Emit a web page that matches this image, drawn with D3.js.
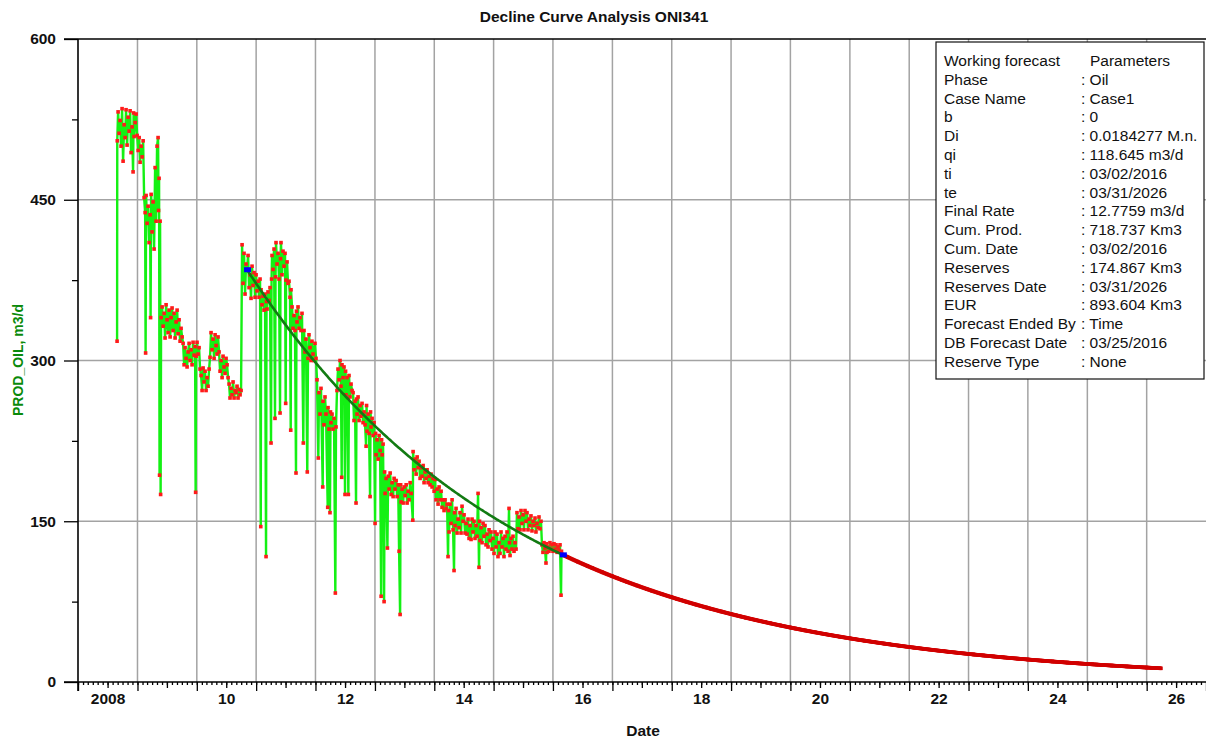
<!DOCTYPE html>
<html>
<head>
<meta charset="utf-8">
<script src="https://cdn.jsdelivr.net/npm/d3@7"></script>
<style>
  html, body { margin: 0; padding: 0; background: #fff; }
  svg { display: block; font-family: "Liberation Sans", Arial, sans-serif; }
</style>
</head>
<body>
<svg id="chart" width="1206" height="740"></svg>
<script>
// ---- Chart data -------------------------------------------------------
const title = "Decline Curve Analysis ONI341";
const yLabel = "PROD_OIL, m3/d";
const xLabel = "Date";

const yMajorTicks = [0, 150, 300, 450, 600];
const yMinorTicks = [75, 225, 375, 525];
const yGridValues = [150, 300, 450];
const xLabelYears = [2008, 2010, 2012, 2014, 2016, 2018, 2020, 2022, 2024, 2026];

// Daily oil rate history, [decimal year, m3/d]
const history = [
  [2008.657,318],[2008.66,505],[2008.674,532],[2008.69,512],[2008.707,524],[2008.724,500],[2008.741,535],[2008.758,486],
  [2008.775,520],[2008.792,508],[2008.808,534],[2008.825,501],[2008.842,527],[2008.859,514],[2008.876,533],[2008.892,494],
  [2008.909,518],[2008.926,476],[2008.935,531],[2008.943,509],[2008.96,522],[2008.977,530],[2008.994,510],[2009.011,496],
  [2009.028,508],[2009.044,485],[2009.061,500],[2009.078,490],[2009.095,505],[2009.112,452],[2009.129,438],[2009.137,307],
  [2009.145,454],[2009.162,428],[2009.179,444],[2009.196,410],[2009.213,436],[2009.221,340],[2009.23,455],[2009.246,420],
  [2009.263,448],[2009.28,404],[2009.297,480],[2009.314,430],[2009.33,500],[2009.347,508],[2009.355,440],[2009.364,470],
  [2009.372,193],[2009.381,430],[2009.39,175],[2009.398,340],[2009.415,350],[2009.432,332],[2009.449,344],[2009.465,321],
  [2009.482,352],[2009.499,338],[2009.516,326],[2009.533,347],[2009.55,322],[2009.566,340],[2009.583,349],[2009.6,328],
  [2009.617,344],[2009.634,321],[2009.651,336],[2009.668,347],[2009.684,325],[2009.701,338],[2009.718,318],[2009.735,330],
  [2009.752,322],[2009.769,316],[2009.786,296],[2009.802,312],[2009.819,302],[2009.836,294],[2009.853,308],[2009.87,316],
  [2009.887,300],[2009.903,310],[2009.92,296],[2009.937,317],[2009.954,305],[2009.971,313],[2009.98,177],[2009.988,304],
  [2010.004,317],[2010.021,306],[2010.038,312],[2010.055,292],[2010.072,286],[2010.089,272],[2010.106,293],[2010.122,280],
  [2010.139,290],[2010.156,272],[2010.173,284],[2010.19,276],[2010.207,292],[2010.223,303],[2010.24,326],[2010.257,310],
  [2010.274,320],[2010.291,302],[2010.308,324],[2010.324,314],[2010.341,306],[2010.358,322],[2010.375,308],[2010.392,290],
  [2010.409,300],[2010.426,284],[2010.442,304],[2010.459,294],[2010.476,288],[2010.493,302],[2010.51,296],[2010.527,284],
  [2010.544,278],[2010.56,265],[2010.577,274],[2010.594,268],[2010.611,280],[2010.628,265],[2010.645,272],[2010.661,270],
  [2010.678,276],[2010.695,265],[2010.712,273],[2010.729,268],[2010.746,272],[2010.763,408],[2010.779,372],[2010.796,400],
  [2010.813,362],[2010.83,390],[2010.847,385],[2010.864,398],[2010.881,368],[2010.897,380],[2010.914,358],[2010.931,388],
  [2010.948,370],[2010.965,382],[2010.982,359],[2010.999,380],[2011.015,365],[2011.032,374],[2011.049,359],[2011.066,376],
  [2011.078,145],[2011.083,366],[2011.099,352],[2011.116,360],[2011.133,347],[2011.15,362],[2011.167,117],[2011.175,355],
  [2011.184,348],[2011.2,364],[2011.217,356],[2011.234,368],[2011.251,223],[2011.26,376],[2011.268,398],[2011.285,385],
  [2011.302,404],[2011.318,246],[2011.327,378],[2011.335,410],[2011.352,390],[2011.369,400],[2011.386,376],[2011.403,251],
  [2011.411,395],[2011.419,410],[2011.436,380],[2011.453,402],[2011.47,388],[2011.487,400],[2011.498,260],[2011.504,375],
  [2011.521,392],[2011.537,372],[2011.554,374],[2011.571,359],[2011.583,235],[2011.588,366],[2011.605,350],[2011.622,330],
  [2011.638,342],[2011.655,328],[2011.672,195],[2011.68,346],[2011.689,336],[2011.706,350],[2011.723,330],[2011.739,340],
  [2011.756,328],[2011.773,344],[2011.795,223],[2011.807,328],[2011.824,308],[2011.84,320],[2011.862,196],[2011.874,302],
  [2011.891,324],[2011.908,312],[2011.925,300],[2011.941,318],[2011.958,306],[2011.975,300],[2011.992,316],[2012.009,302],
  [2012.026,282],[2012.048,209],[2012.059,270],[2012.076,250],[2012.093,274],[2012.122,182],[2012.127,262],[2012.143,240],
  [2012.16,266],[2012.177,250],[2012.206,163],[2012.211,256],[2012.228,236],[2012.244,158],[2012.253,252],[2012.261,242],
  [2012.278,250],[2012.295,236],[2012.312,246],[2012.334,83],[2012.345,238],[2012.362,272],[2012.379,292],[2012.396,282],
  [2012.413,300],[2012.429,276],[2012.441,191],[2012.446,296],[2012.463,284],[2012.48,294],[2012.497,175],[2012.506,290],
  [2012.514,268],[2012.531,284],[2012.553,175],[2012.564,286],[2012.581,266],[2012.598,278],[2012.615,272],[2012.632,270],
  [2012.648,244],[2012.665,262],[2012.682,167],[2012.69,264],[2012.699,250],[2012.716,266],[2012.733,244],[2012.75,258],
  [2012.766,248],[2012.783,260],[2012.8,242],[2012.817,252],[2012.834,240],[2012.851,220],[2012.859,258],[2012.867,234],
  [2012.884,250],[2012.901,232],[2012.918,173],[2012.926,252],[2012.935,238],[2012.952,246],[2012.969,230],[2012.985,242],
  [2013.002,148],[2013.011,232],[2013.019,212],[2013.036,226],[2013.053,208],[2013.07,230],[2013.087,216],[2013.104,80],
  [2013.112,226],[2013.121,212],[2013.137,222],[2013.154,75],[2013.163,196],[2013.171,176],[2013.188,190],[2013.21,125],
  [2013.222,192],[2013.239,180],[2013.256,195],[2013.273,175],[2013.289,186],[2013.306,173],[2013.323,190],[2013.34,180],
  [2013.357,188],[2013.374,173],[2013.391,184],[2013.407,122],[2013.424,63],[2013.433,184],[2013.441,168],[2013.458,180],
  [2013.475,167],[2013.492,182],[2013.509,174],[2013.526,184],[2013.542,167],[2013.559,178],[2013.576,170],[2013.593,186],
  [2013.61,176],[2013.638,151],[2013.643,215],[2013.66,198],[2013.677,208],[2013.694,194],[2013.711,210],[2013.728,200],
  [2013.744,206],[2013.761,190],[2013.778,200],[2013.795,192],[2013.812,202],[2013.828,186],[2013.845,196],[2013.862,190],
  [2013.879,198],[2013.896,186],[2013.913,192],[2013.929,184],[2013.946,194],[2013.963,182],[2013.98,190],[2013.997,178],
  [2014.014,189],[2014.03,170],[2014.047,180],[2014.064,166],[2014.081,182],[2014.098,170],[2014.115,178],[2014.131,163],
  [2014.148,170],[2014.165,160],[2014.182,170],[2014.199,162],[2014.216,166],[2014.232,117],[2014.241,160],[2014.249,140],
  [2014.266,166],[2014.283,148],[2014.3,170],[2014.317,142],[2014.333,104],[2014.342,158],[2014.35,146],[2014.367,162],
  [2014.384,139],[2014.401,152],[2014.418,144],[2014.434,158],[2014.451,139],[2014.468,164],[2014.485,150],[2014.502,156],
  [2014.519,139],[2014.536,148],[2014.552,138],[2014.569,152],[2014.586,134],[2014.603,146],[2014.62,133],[2014.637,152],
  [2014.653,140],[2014.67,150],[2014.687,134],[2014.704,146],[2014.721,136],[2014.738,176],[2014.754,107],[2014.763,150],
  [2014.771,132],[2014.788,144],[2014.805,130],[2014.822,148],[2014.839,136],[2014.855,146],[2014.872,128],[2014.889,138],
  [2014.906,126],[2014.923,142],[2014.94,132],[2014.956,140],[2014.973,124],[2014.99,134],[2015.007,120],[2015.024,140],
  [2015.041,126],[2015.058,138],[2015.074,117],[2015.091,130],[2015.108,120],[2015.125,140],[2015.142,126],[2015.159,134],
  [2015.175,117],[2015.192,136],[2015.209,124],[2015.226,140],[2015.243,122],[2015.26,162],[2015.268,130],[2015.277,118],
  [2015.293,134],[2015.31,124],[2015.327,136],[2015.344,122],[2015.361,130],[2015.378,124],[2015.394,158],[2015.411,143],
  [2015.428,154],[2015.445,142],[2015.462,160],[2015.479,148],[2015.496,156],[2015.512,142],[2015.529,160],[2015.546,150],
  [2015.563,158],[2015.58,142],[2015.597,152],[2015.613,146],[2015.63,155],[2015.647,141],[2015.664,150],[2015.681,146],
  [2015.698,153],[2015.714,140],[2015.731,148],[2015.748,144],[2015.765,154],[2015.782,143],[2015.799,150],[2015.815,128],
  [2015.832,121],[2015.849,130],[2015.866,125],[2015.883,111],[2015.891,129],[2015.9,121],[2015.917,126],[2015.933,122],
  [2015.95,130],[2015.967,124],[2015.984,128],[2016.001,122],[2016.018,129],[2016.035,124],[2016.052,128],[2016.069,121],
  [2016.085,126],[2016.102,123],[2016.119,128],[2016.136,81],[2016.144,122],[2016.153,119]
];

// Working forecast parameters (Arps, b = 0 => exponential decline)
const paramNames = ["Phase","Case Name","b","Di","qi","ti","te","Final Rate","Cum. Prod.","Cum. Date",
  "Reserves","Reserves Date","EUR","Forecast Ended By","DB Forecast Date","Reserve Type"];
const paramValues = ["Oil","Case1","0","0.0184277 M.n.","118.645 m3/d","03/02/2016","03/31/2026","12.7759 m3/d",
  "718.737 Km3","03/02/2016","174.867 Km3","03/31/2026","893.604 Km3","Time","03/25/2016","None"];
const qi = 118.645;          // m3/d at ti
const Di = 0.0184277;        // nominal decline per month
const tiDate = "2016-03-02";
const teDate = "2026-03-31";
const fitStartDate = "2010-11-06";   // start of the matched decline segment

// ---- Helpers -----------------------------------------------------------
const parse = d3.utcParse("%Y-%m-%d");
function fromDecimalYear(v) {
  const Y = Math.floor(v);
  const s = Date.UTC(Y, 0, 1), e = Date.UTC(Y + 1, 0, 1);
  return new Date(s + (v - Y) * (e - s));
}
const MS_PER_MONTH = 365.25 / 12 * 864e5;
const tiTime = parse(tiDate), teTime = parse(teDate), fitStart = parse(fitStartDate);
// exponential decline rate at date t
const rateAt = t => qi * Math.exp(-Di * (t - tiTime) / MS_PER_MONTH);

// ---- Layout ------------------------------------------------------------
const svg = d3.select("#chart");
const plotL = 78, plotR = 1206, plotT = 39, plotB = 682;
const x = d3.scaleUtc()
  .domain([new Date(Date.UTC(2008, 0, 1)), new Date(Date.UTC(2027, 0, 1))])
  .range([plotL, plotR]);
const y = d3.scaleLinear().domain([0, 600]).range([plotB, plotT]);

// grid
const grid = svg.append("g").attr("stroke", "#a3a3a3").attr("stroke-width", 1.5);
grid.selectAll("line.v")
  .data(d3.utcYear.range(new Date(Date.UTC(2009, 0, 1)), new Date(Date.UTC(2027, 0, 1))))
  .join("line").attr("class", "v")
  .attr("x1", d => x(d)).attr("x2", d => x(d))
  .attr("y1", plotT).attr("y2", plotB);
grid.selectAll("line.h").data(yGridValues).join("line").attr("class", "h")
  .attr("x1", plotL).attr("x2", plotR)
  .attr("y1", d => y(d)).attr("y2", d => y(d));

// ---- Marks -------------------------------------------------------------
const hist = history.map(([t, v]) => ({ t: fromDecimalYear(t), v }));

svg.append("path")
  .datum(hist)
  .attr("fill", "none")
  .attr("stroke", "#14f014")
  .attr("stroke-width", 2.4)
  .attr("stroke-linejoin", "bevel")
  .attr("d", d3.line().x(d => x(d.t)).y(d => y(d.v)));

svg.append("g").attr("fill", "#ff1a1a")
  .selectAll("rect").data(hist).join("rect")
  .attr("x", d => x(d.t) - 1.8).attr("y", d => y(d.v) - 1.8)
  .attr("width", 3.6).attr("height", 3.6);

// matched decline segment over the history
const fitDates = d3.utcDay.every(7).range(fitStart, tiTime).concat([tiTime]);
svg.append("path")
  .datum(fitDates)
  .attr("fill", "none")
  .attr("stroke", "#137a13")
  .attr("stroke-width", 2.6)
  .attr("d", d3.line().x(d => x(d)).y(d => y(rateAt(d))));

// forecast points
const fcDates = d3.utcDay.every(5).range(tiTime, teTime).concat([teTime]);
svg.append("g").attr("fill", "#d10000")
  .selectAll("rect").data(fcDates).join("rect")
  .attr("x", d => x(d) - 1.6).attr("y", d => y(rateAt(d)) - 1.8)
  .attr("width", 3.2).attr("height", 3.6);

// end markers of the matched segment
svg.append("g").attr("fill", "#0000ff")
  .selectAll("rect").data([fitStart, tiTime]).join("rect")
  .attr("x", d => x(d) - 3).attr("y", d => y(rateAt(d)) - 2.5)
  .attr("width", 7).attr("height", 5);

// ---- Axes --------------------------------------------------------------
const axisFont = 'bold 15.5px "Liberation Sans", Arial, sans-serif';
const xDomain = x.domain();

function styleAxis(g) {
  g.select(".domain").remove();
  g.selectAll("line").attr("stroke", "#000").attr("stroke-width", 1.3);
}

// monthly minor ticks
svg.append("g").attr("transform", `translate(0,${plotB})`)
  .call(d3.axisBottom(x).tickValues(d3.utcMonth.range(xDomain[0], xDomain[1])).tickSize(3).tickFormat(""))
  .call(styleAxis);
// mid-year ticks carry the year labels
svg.append("g").attr("transform", `translate(0,${plotB})`)
  .call(d3.axisBottom(x)
    .tickValues(d3.range(2008, 2027).map(Y => new Date(Date.UTC(Y, 6, 1))))
    .tickSize(6)
    .tickFormat(d => {
      const Y = d.getUTCFullYear();
      if (!xLabelYears.includes(Y)) return "";
      return Y === 2008 ? "2008" : String(Y % 100).padStart(2, "0");
    }))
  .call(styleAxis)
  .call(g => g.selectAll("text")
    .attr("y", 11).attr("dy", "0.71em")
    .attr("fill", "#111").style("font", axisFont));
// year boundary ticks
svg.append("g").attr("transform", `translate(0,${plotB})`)
  .call(d3.axisBottom(x).tickValues(d3.utcYear.range(xDomain[0], new Date(Date.UTC(2027, 0, 2)))).tickSize(9).tickFormat(""))
  .call(styleAxis);

// y axis ticks
svg.append("g").attr("transform", `translate(${plotL},0)`)
  .call(d3.axisLeft(y).tickValues(yMinorTicks).tickSize(6).tickFormat(""))
  .call(styleAxis);
svg.append("g").attr("transform", `translate(${plotL},0)`)
  .call(d3.axisLeft(y).tickValues(yMajorTicks).tickSize(14).tickPadding(8))
  .call(styleAxis)
  .call(g => g.selectAll("text").attr("fill", "#111").style("font", axisFont));

// axis lines
svg.append("line").attr("x1", 64).attr("x2", plotR).attr("y1", plotB).attr("y2", plotB)
  .attr("stroke", "#000").attr("stroke-width", 1.6);
svg.append("line").attr("x1", 64).attr("x2", plotR).attr("y1", plotT).attr("y2", plotT)
  .attr("stroke", "#000").attr("stroke-width", 1.6);
svg.append("line").attr("x1", plotL).attr("x2", plotL).attr("y1", plotT).attr("y2", plotB + 9)
  .attr("stroke", "#000").attr("stroke-width", 1.6);

// titles
svg.append("text").attr("x", 594).attr("y", 22).attr("text-anchor", "middle")
  .style("font", axisFont).attr("fill", "#111").text(title);
svg.append("text").attr("x", 643).attr("y", 736).attr("text-anchor", "middle")
  .style("font", axisFont).attr("fill", "#111").text(xLabel);
svg.append("text")
  .attr("transform", "translate(23,360) rotate(-90)")
  .attr("text-anchor", "middle")
  .style("font", 'bold 14px "Liberation Sans", Arial, sans-serif')
  .attr("fill", "#0a8a0a").text(yLabel);

// ---- Parameters box -----------------------------------------------------
const box = svg.append("g").attr("transform", "translate(936,42)");
box.append("rect").attr("width", 268).attr("height", 337)
  .attr("fill", "#fff").attr("stroke", "#111").attr("stroke-width", 1.2);
const rowH = 18.8, row0 = 24;
const legendFont = '15.5px "Liberation Sans", Arial, sans-serif';
box.append("text").attr("x", 8).attr("y", row0).style("font", legendFont).attr("fill", "#111").text("Working forecast");
box.append("text").attr("x", 154).attr("y", row0).style("font", legendFont).attr("fill", "#111").text("Parameters");
paramNames.forEach((n, i) => {
  box.append("text").attr("x", 8).attr("y", row0 + (i + 1) * rowH)
    .style("font", legendFont).attr("fill", "#111").text(n);
  box.append("text").attr("x", 145).attr("y", row0 + (i + 1) * rowH)
    .style("font", legendFont).attr("fill", "#111").text(": " + paramValues[i]);
});
</script>
</body>
</html>
